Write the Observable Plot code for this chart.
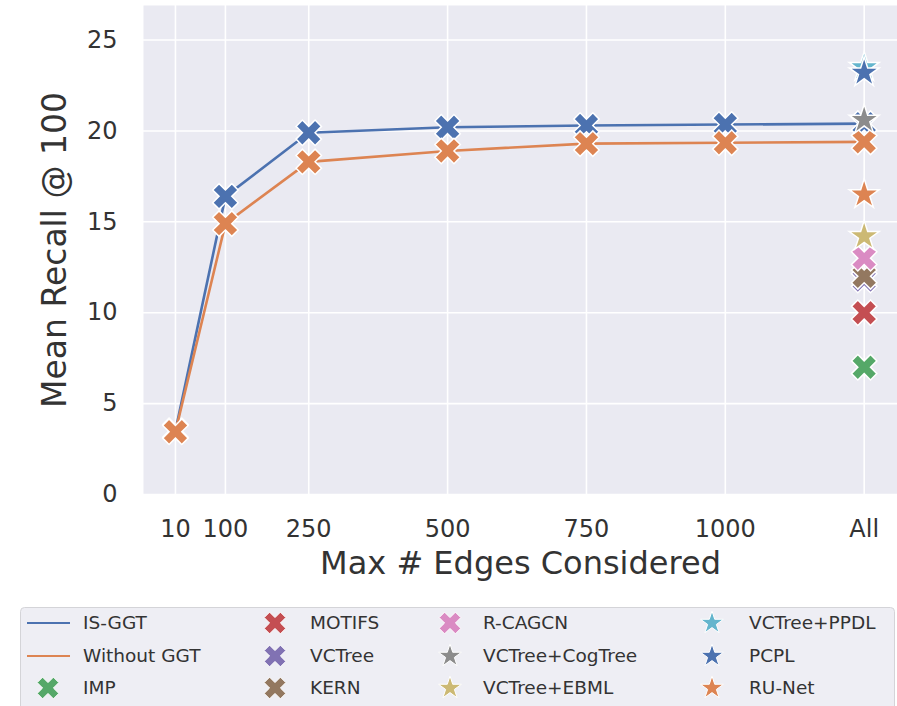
<!DOCTYPE html>
<html>
<head>
<meta charset="utf-8">
<script src="https://cdn.jsdelivr.net/npm/d3@7"></script>
<script src="https://cdn.jsdelivr.net/npm/@observablehq/plot@0.6"></script>
<style>
  body { margin: 0; background: #fff; }
  #wrap { position: relative; width: 897px; height: 706px; overflow: hidden; background: #fff; font-family: "DejaVu Sans", sans-serif; }
</style>
</head>
<body>
<div id="wrap"></div>
<script>
// ---------- data ----------
const edgeTicks = [10, 100, 250, 500, 750, 1000, 1250];
const edgeTickLabels = ["10", "100", "250", "500", "750", "1000", "All"];
const isGGT = [3.5, 16.4, 19.9, 20.2, 20.3, 20.35, 20.4];
const withoutGGT = [3.45, 14.9, 18.3, 18.9, 19.3, 19.35, 19.4];
const baselineNames = ["IMP", "MOTIFS", "VCTree", "KERN", "R-CAGCN", "VCTree+CogTree", "VCTree+EBML", "VCTree+PPDL", "PCPL", "RU-Net"];
const baselineRecall = [7.0, 10.0, 11.8, 12.0, 13.0, 20.6, 14.2, 23.5, 23.2, 16.5];
const baselineMarker = ["X", "X", "X", "X", "X", "star", "star", "star", "star", "star"];
const yTicks = [0, 5, 10, 15, 20, 25];

// ---------- styles ----------
const palette = {
  "IS-GGT": "#4c72b0", "Without GGT": "#dd8452",
  "IMP": "#55a868", "MOTIFS": "#c44e52", "VCTree": "#8172b3", "KERN": "#937860",
  "R-CAGCN": "#da8bc3", "VCTree+CogTree": "#8c8c8c", "VCTree+EBML": "#ccb974",
  "VCTree+PPDL": "#64b5cd", "PCPL": "#4c72b0", "RU-Net": "#dd8452"
};

// matplotlib-like filled "X" marker
const symbolX = {
  draw(ctx, size) {
    const L = Math.sqrt(size / Math.PI), w = L / 3, s = Math.SQRT1_2;
    const pts = [[w,w],[L,w],[L,-w],[w,-w],[w,-L],[-w,-L],[-w,-w],[-L,-w],[-L,w],[-w,w],[-w,L],[w,L]];
    pts.forEach(([x, y], i) => {
      const X = (x - y) * s, Y = (x + y) * s;
      if (i) ctx.lineTo(X, Y); else ctx.moveTo(X, Y);
    });
    ctx.closePath();
  }
};

const seriesRows = (name, vals) => edgeTicks.map((x, i) => ({ series: name, x, y: vals[i] }));
const ggtRows = seriesRows("IS-GGT", isGGT);
const woRows = seriesRows("Without GGT", withoutGGT);
const baselineRows = baselineNames.map((name, i) => ({ name, x: 1250, y: baselineRecall[i], marker: baselineMarker[i] }));

const marks = [
  Plot.frame({ fill: "#eaeaf2", stroke: "none" }),
  Plot.gridY({ ticks: yTicks, stroke: "white", strokeOpacity: 1, strokeWidth: 1.6 }),
  Plot.gridX({ ticks: edgeTicks, stroke: "white", strokeOpacity: 1, strokeWidth: 1.6 }),
  Plot.axisY({ ticks: yTicks, tickSize: 0, tickPadding: 26, fontSize: 24, label: null }),
  Plot.axisX({ ticks: edgeTicks, tickFormat: d => edgeTickLabels[edgeTicks.indexOf(d)], tickSize: 0, tickPadding: 25, fontSize: 24, label: null }),
];
for (const rows of [ggtRows, woRows]) {
  const c = palette[rows[0].series];
  marks.push(Plot.line(rows, { x: "x", y: "y", stroke: c, strokeWidth: 2.6 }));
  marks.push(Plot.dot(rows, { x: "x", y: "y", r: 13.5, symbol: symbolX, fill: c, stroke: "white", strokeWidth: 1.5 }));
}
for (const row of baselineRows) {
  const isX = row.marker === "X";
  marks.push(Plot.dot([row], { x: "x", y: "y", r: isX ? 13.5 : 9.4, symbol: isX ? symbolX : "star", fill: palette[row.name], stroke: "white", strokeWidth: 1.5 }));
}
marks.push(Plot.text(["Mean Recall @ 100"], { text: d => d, frameAnchor: "left", textAnchor: "middle", dx: -88, rotate: -90, fontSize: 33 }));
marks.push(Plot.text(["Max # Edges Considered"], { text: d => d, frameAnchor: "bottom", textAnchor: "middle", dy: 79, fontSize: 32 }));

const chart = Plot.plot({
  width: 897,
  height: 600,
  marginLeft: 143,
  marginRight: 0,
  marginTop: 5,
  marginBottom: 106,
  x: { domain: [-47.5, 1310] },
  y: { domain: [0, 26.9] },
  style: { fontFamily: "DejaVu Sans, sans-serif", color: "#333", background: "white", overflow: "visible" },
  marks
});
chart.style.position = "absolute";
chart.style.left = "0px";
chart.style.top = "0px";
document.getElementById("wrap").appendChild(chart);

// ---------- legend ----------
const legendItems = [
  ["IS-GGT", "line"], ["Without GGT", "line"], ["IMP", "X"],
  ["MOTIFS", "X"], ["VCTree", "X"], ["KERN", "X"],
  ["R-CAGCN", "X"], ["VCTree+CogTree", "star"], ["VCTree+EBML", "star"],
  ["VCTree+PPDL", "star"], ["PCPL", "star"], ["RU-Net", "star"]
];
const colHandle = [48, 275, 450, 712];
const colText = [83, 310, 483, 749];
const rowY = [23, 56, 88];

const lsvg = d3.select("#wrap").append("svg").attr("width", 897).attr("height", 106)
  .style("position", "absolute").style("left", "0px").style("top", "600px")
  .style("font-family", "DejaVu Sans, sans-serif");
lsvg.append("rect").attr("x", 20.5).attr("y", 7.5).attr("width", 874).attr("height", 130).attr("rx", 4)
  .attr("fill", "#eeeef4").attr("stroke", "#d4d4d8");
legendItems.forEach(([name, kind], i) => {
  const col = Math.floor(i / 3), row = i % 3;
  const cx = colHandle[col], cy = rowY[row];
  const c = palette[name];
  if (kind === "line") {
    lsvg.append("line").attr("x1", 27).attr("x2", 70).attr("y1", cy).attr("y2", cy).attr("stroke", c).attr("stroke-width", 2);
  } else {
    const sym = kind === "X" ? symbolX : d3.symbolStar;
    const r = kind === "X" ? 11.5 : 7.2;
    lsvg.append("path").attr("d", d3.symbol(sym, Math.PI * r * r)()).attr("transform", `translate(${cx},${cy})`)
      .attr("fill", c).attr("stroke", "white").attr("stroke-width", 1);
  }
  lsvg.append("text").attr("x", colText[col]).attr("y", cy).attr("dy", "0.35em").attr("font-size", 18.5)
    .attr("fill", "#333").text(name);
});
</script>
</body>
</html>
